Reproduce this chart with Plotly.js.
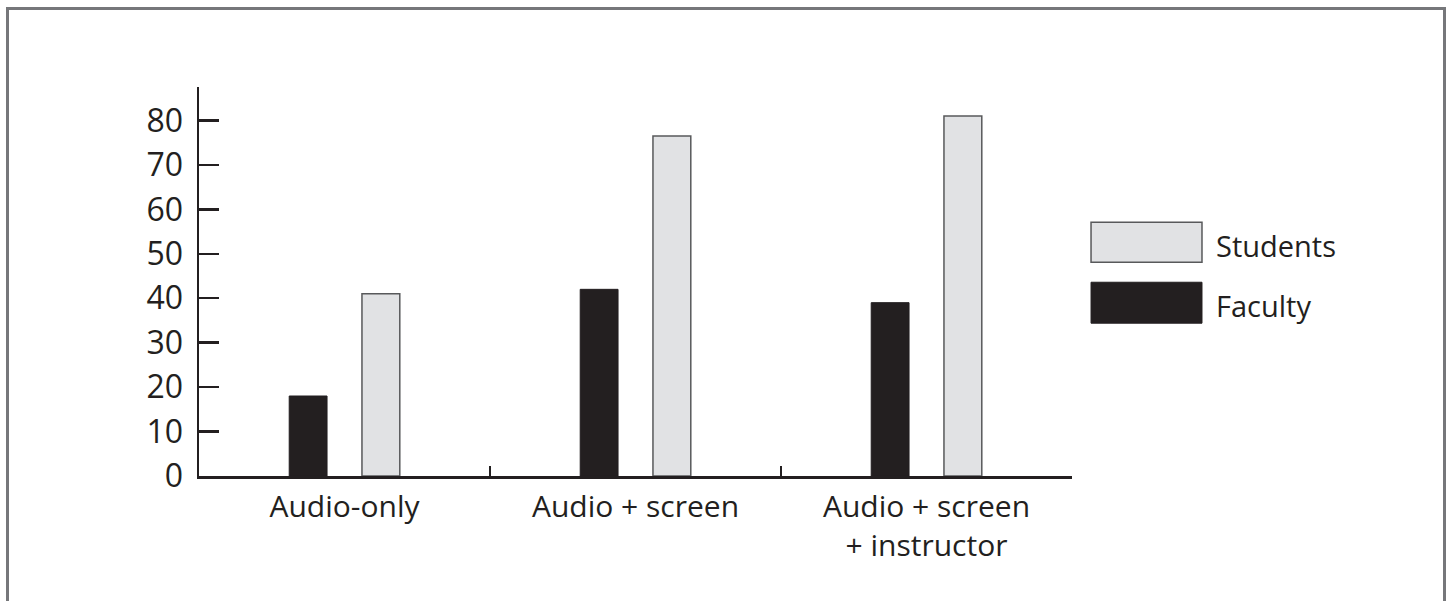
<!DOCTYPE html>
<html>
<head>
<meta charset="utf-8">
<script src="https://cdn.plot.ly/plotly-3.0.1.min.js"></script>
<style>
  html, body { margin: 0; padding: 0; background: #ffffff; overflow: hidden; }
  #chart { position: absolute; left: 0; top: 0; width: 1449px; height: 601px; }
  #frame { position: absolute; left: 6px; top: 7px; width: 1434px; height: 700px;
           border: 3px solid #76777a; border-bottom: none; pointer-events: none; z-index: 2; }
  #clip { position: absolute; left: 120px; top: 20px; width: 120px; height: 67px;
          background: #ffffff; z-index: 3; }
</style>
</head>
<body>
<div id="chart"></div>
<div id="frame"></div>
<div id="clip"></div>
<script>
// ---- data ----
const categories = ["Audio-only", "Audio + screen", "Audio + screen<br>+ instructor"];
const facultyValues = [18, 42, 39];
const studentValues = [41, 76.5, 81];
const yTickValues = [0, 10, 20, 30, 40, 50, 60, 70, 80, 90];
const seriesNames = ["Students", "Faculty"];

const FONT = "'Open Sans', 'Noto Sans', sans-serif";
const INK = "#231f20";
const LIGHT = "#e1e2e4";
const EDGE = "#58595b";

const faculty = {
  type: "bar",
  name: seriesNames[1],
  x: categories,
  y: facultyValues,
  width: 0.13,
  offset: -0.19,
  marker: { color: INK, line: { color: INK, width: 1 } },
  showlegend: false,
  hoverinfo: "none"
};
const students = {
  type: "bar",
  name: seriesNames[0],
  x: categories,
  y: studentValues,
  width: 0.13,
  offset: 0.06,
  marker: { color: LIGHT, line: { color: EDGE, width: 1.5 } },
  showlegend: false,
  hoverinfo: "none"
};

// custom legend (large swatches)
const legendShapes = [
  { type: "rect", xref: "paper", yref: "paper", x0: 1.0218, x1: 1.1489, y0: 0.5343, y1: 0.6342,
    fillcolor: LIGHT, line: { color: EDGE, width: 1.5 } },
  { type: "rect", xref: "paper", yref: "paper", x0: 1.0218, x1: 1.1489, y0: 0.3820, y1: 0.4844,
    fillcolor: INK, line: { color: INK, width: 1 } }
];
const legendAnnotations = [
  { xref: "paper", yref: "paper", x: 1.163, y: 0.576, xanchor: "left", yanchor: "middle",
    text: seriesNames[0], showarrow: false, font: { family: FONT, size: 29, color: INK } },
  { xref: "paper", yref: "paper", x: 1.163, y: 0.426, xanchor: "left", yanchor: "middle",
    text: seriesNames[1], showarrow: false, font: { family: FONT, size: 29, color: INK } }
];

const layout = {
  width: 1449,
  height: 601,
  margin: { l: 199, r: 377, t: 75.5, b: 125, pad: 0 },
  paper_bgcolor: "#ffffff",
  plot_bgcolor: "#ffffff",
  barmode: "overlay",
  showlegend: false,
  font: { family: FONT, color: INK },
  xaxis: {
    type: "category",
    range: [-0.5, 2.5],
    showline: true,
    linecolor: INK,
    linewidth: 2.5,
    ticks: "inside",
    tickson: "boundaries",
    ticklen: 10,
    tickwidth: 2.5,
    tickcolor: INK,
    showgrid: false,
    zeroline: false,
    tickfont: { family: FONT, size: 30, color: INK },
    ticklabelstandoff: 2,
    fixedrange: true
  },
  yaxis: {
    range: [0, 90],
    tickmode: "array",
    tickvals: yTickValues,
    ticktext: yTickValues.map(String),
    showline: true,
    linecolor: INK,
    linewidth: 2.5,
    ticks: "inside",
    ticklen: 20,
    tickwidth: 2.5,
    tickcolor: INK,
    showgrid: false,
    zeroline: false,
    tickfont: { family: FONT, size: 32, color: INK },
    ticklabelstandoff: 7,
    fixedrange: true
  },
  shapes: legendShapes,
  annotations: legendAnnotations
};

Plotly.newPlot("chart", [faculty, students], layout, { displayModeBar: false, staticPlot: true });
</script>
</body>
</html>
